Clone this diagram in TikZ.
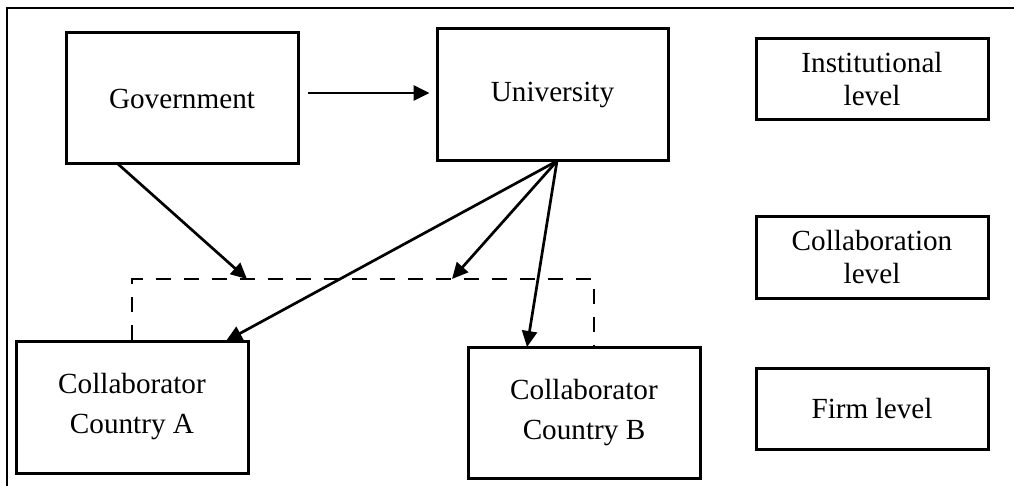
\documentclass[tikz,border=0pt]{standalone}
\usepackage{fontspec}
\setmainfont{Liberation Serif}
\usetikzlibrary{arrows.meta}

\begin{document}
\begin{tikzpicture}[x=1pt,y=-1pt,
   blk/.style 2 args={draw,line width=3pt,minimum width=#1pt,minimum height=#2pt,inner sep=0pt,align=center,font=\fontsize{29.2}{33}\selectfont},
   two/.style={font=\fontsize{29.2}{40}\selectfont},
   arr/.style={line width=2.7pt,-{Triangle[length=16pt,width=15pt]}},
   dsh/.style={line width=2.7pt,dash pattern=on 15pt off 13pt}]
\useasboundingbox (0,0) rectangle (1014,486);
\draw[line width=2.5pt] (7,486) -- (7,8) -- (1014,8);
   \node[blk={232}{131}] (gov) at (182,98.5) {Government};
   \node[blk={231}{132}] (uni) at (552.5,95) {University};
   \node[blk={232}{81}] (inst) at (872,79.5) {Institutional\\level};
   \node[blk={232}{81}] (colv) at (872,257.5) {Collaboration\\level};
   \node[blk={232}{81}] (firm) at (872,408.5) {Firm level};
   \node[blk={232}{132},two] (ca) at (132,407) {Collaborator\\Country A};
   \node[blk={232}{131},two] (cb) at (584,412.5) {Collaborator\\Country B};
\coordinate (g1) at (118,164);
\coordinate (u1) at (557,161);
\coordinate (d1) at (247,279);
\coordinate (d2) at (452,279);
\coordinate (dr) at (594,279);
\coordinate (a1) at (226,341);
\coordinate (b1) at (527,347);
\draw[dsh] (ca.north) |- (dr) -- (dr |- cb.north);
\draw[arr] ([xshift=8pt,yshift=5.5pt]gov.east) -- ([xshift=-6pt,yshift=2pt]uni.west);
\draw[arr] (g1) -- (d1);
\draw[arr] (u1) -- (a1);
\draw[arr] (u1) -- (d2);
\draw[arr] (u1) -- (b1);
\end{tikzpicture}
\end{document}
